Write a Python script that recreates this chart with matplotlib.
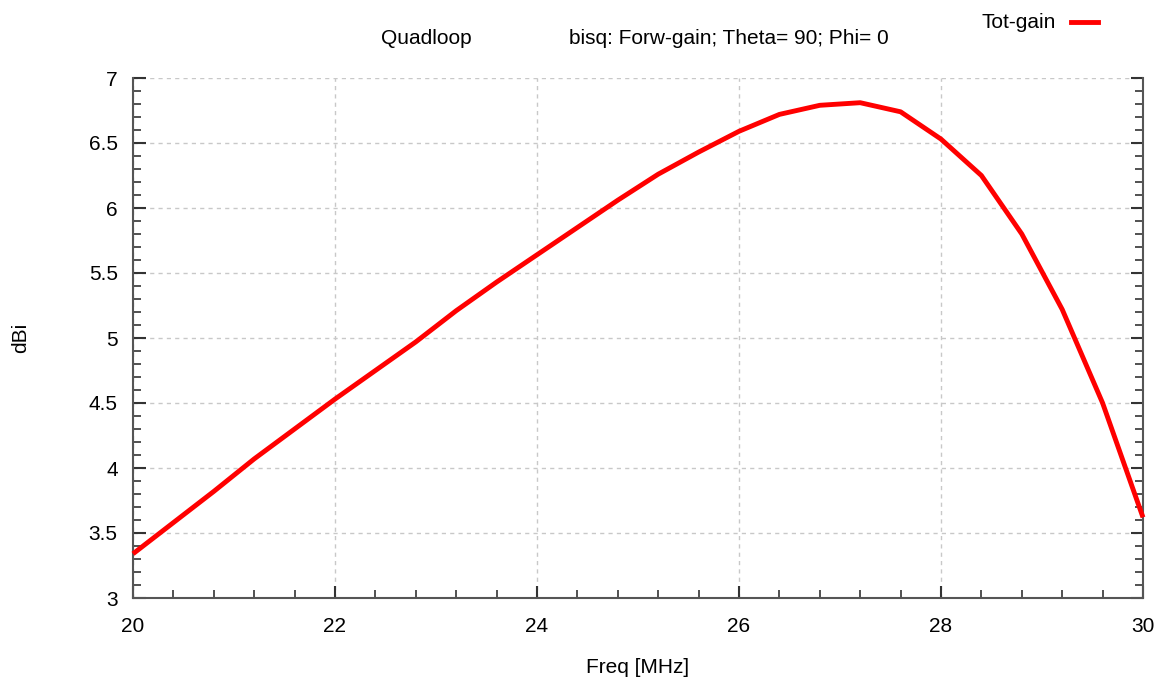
import matplotlib.pyplot as plt
import matplotlib as mpl
from matplotlib.ticker import MultipleLocator
from matplotlib.lines import Line2D

mpl.rcParams['font.family'] = ['Liberation Sans', 'DejaVu Sans']

# ---------- Data ----------
freq = [20.0, 20.4, 20.8, 21.2, 21.6, 22.0, 22.4, 22.8, 23.2, 23.6,
        24.0, 24.4, 24.8, 25.2, 25.6, 26.0, 26.4, 26.8, 27.2, 27.6,
        28.0, 28.4, 28.8, 29.2, 29.6, 30.0]
gain = [3.34, 3.58, 3.82, 4.07, 4.30, 4.53, 4.75, 4.97, 5.21, 5.43,
        5.64, 5.85, 6.06, 6.26, 6.43, 6.59, 6.72, 6.79, 6.81, 6.74,
        6.53, 6.25, 5.80, 5.22, 4.50, 3.62]

RED = '#ff0000'
SPINE = '#555555'
FS = 15

fig = plt.figure(figsize=(11.65, 6.84), dpi=100)
ax = fig.add_axes([133 / 1165, 86 / 684, 1010 / 1165, 520 / 684])

ax.plot(freq, gain, color=RED, lw=3.5, solid_capstyle='butt',
        solid_joinstyle='round', zorder=3, clip_on=False)

ax.set_xlim(20, 30)
ax.set_ylim(3, 7)
ax.xaxis.set_major_locator(MultipleLocator(2))
ax.xaxis.set_minor_locator(MultipleLocator(0.4))
ax.yaxis.set_major_locator(MultipleLocator(0.5))
ax.yaxis.set_minor_locator(MultipleLocator(0.1))
ax.yaxis.set_major_formatter(mpl.ticker.FuncFormatter(lambda v, p: f'{v:g}'))

ax.grid(True, which='major', color='#c8c8c8', linestyle=(0, (3, 3)), lw=1.0)
ax.set_axisbelow(True)

ax.spines['top'].set_visible(False)
for s in ('left', 'right', 'bottom'):
    ax.spines[s].set_color(SPINE)
    ax.spines[s].set_linewidth(1.5)

ax.tick_params(which='both', direction='in', right=True, top=False,
               color='#333333', labelsize=FS)
ax.tick_params(axis='x', pad=14)
ax.tick_params(axis='y', pad=11)
ax.tick_params(which='major', length=9, width=1.5)
ax.tick_params(which='minor', length=6, width=1.2)

ax.set_xlabel('Freq [MHz]', fontsize=FS)
ax.set_ylabel('dBi', fontsize=FS)
ax.xaxis.set_label_coords(0.5, -0.115)
ax.yaxis.set_label_coords(-0.102, 0.5)

# title (a part of the original title is blurred out)
fig.text(381 / 1165, 1 - 38 / 684, 'Quadloop', fontsize=FS,
         ha='left', va='center')
fig.text(569 / 1165, 1 - 38 / 684, 'bisq: Forw-gain; Theta= 90; Phi= 0',
         fontsize=FS, ha='left', va='center')

# legend
fig.text(1056 / 1165, 1 - 22 / 684, 'Tot-gain', fontsize=FS,
         ha='right', va='center')
fig.add_artist(Line2D([1071 / 1165, 1098 / 1165], [1 - 22 / 684] * 2,
                      color=RED, lw=3.5, transform=fig.transFigure))

fig.savefig('out.png', dpi=100, facecolor='white')
